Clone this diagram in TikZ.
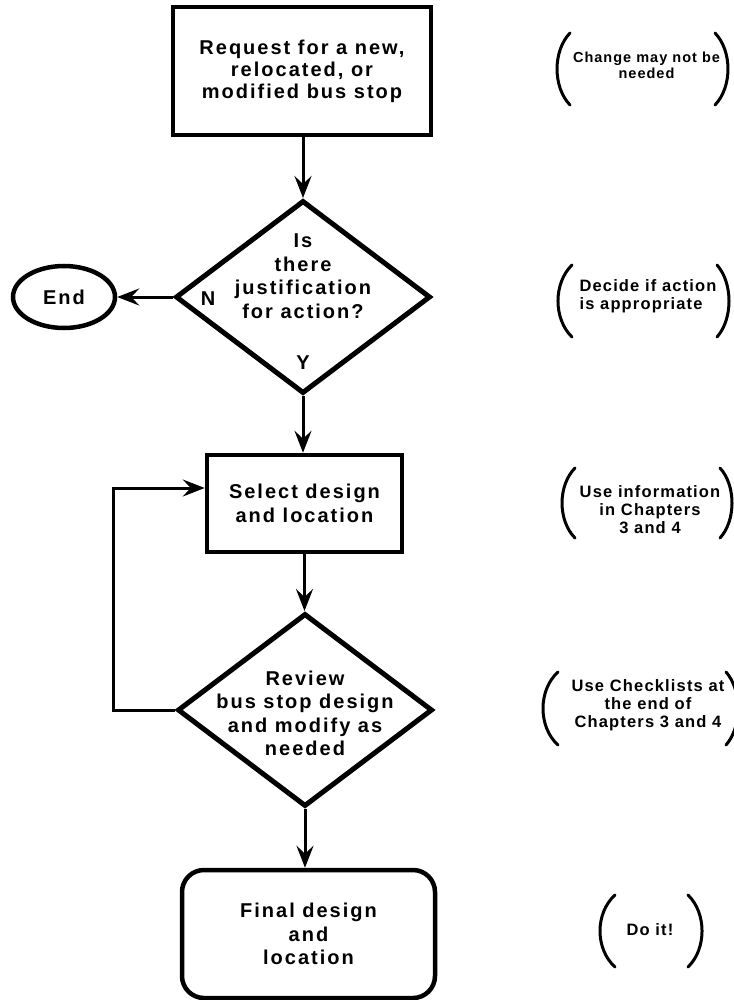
\documentclass[tikz,border=0pt]{standalone}
\usepackage{fontspec}
\setmainfont{Liberation Sans}
\newfontfamily\bigf{Liberation Sans}[LetterSpace=10]
\newfontfamily\smallf{Liberation Sans}[LetterSpace=7]
\usetikzlibrary{shapes.geometric,arrows.meta}
\begin{document}
\begin{tikzpicture}[x=1pt,y=-1pt,
  mainfont/.style={font=\bigf\bfseries\fontsize{20}{23.5}\selectfont},
  procbox/.style={draw,line width=4.5pt,rectangle,mainfont,align=center,inner sep=0pt},
  decision/.style={draw,line width=5pt,diamond,aspect=1.32,inner sep=0pt,minimum width=255pt,minimum height=193pt},
  endell/.style={draw,line width=4.5pt,ellipse,inner sep=0pt,minimum width=102pt,minimum height=62pt,mainfont},
  note/.style={font=\smallf\bfseries\fontsize{16.5}{18}\selectfont,align=center,inner sep=0pt},
  paren/.style={line width=3pt,line cap=round},
  arrow/.style={line width=3pt,-{Stealth[length=22pt,width=17pt,inset=8pt]}},
  ]
\useasboundingbox[fill=white] (0,0) rectangle (733,1000);

% main column
\node[procbox,minimum width=258pt,minimum height=128pt,font=\bigf\bfseries\fontsize{20}{22}\selectfont] (req) at (302,71) {Request for a new,\\relocated, or\\modified bus stop};
\node[decision] (d1) at (303,297) {};
\node[mainfont,align=center,inner sep=0pt] (d1t) at (303,276) {Is\\there\\justification\\for action?};
\node[mainfont,inner sep=0pt] (nlab) at (208,299) {N};
\node[mainfont,inner sep=0pt] (ylab) at (303,363) {Y};
\node[endell] (end) at (64,297) {End};
\node[procbox,minimum width=195pt,minimum height=97pt] (sel) at (304.5,503.5) {Select design\\and location};
\node[decision] (d2) at (305,710) {};
\node[mainfont,align=center,inner sep=0pt] (d2t) at (305,713.5) {Review\\bus stop design\\and modify as\\needed};
\node[procbox,rounded corners=22pt,minimum width=253pt,minimum height=128pt] (fin) at (308.5,934) {Final design\\and\\location};

% connectors
\draw[arrow] (d1.north |- req.south) -- (d1.north);
\draw[arrow] (d1.west) -- (end.east);
\draw[arrow] (d1.south) -- (d1.south |- sel.north);
\draw[arrow] (sel.south) -- (sel.south |- d2.north);
\draw[arrow] (d2.south) -- (d2.south |- fin.north);
\coordinate (fb) at (113,488);
\draw[arrow] (d2.west) -| (fb) -- (fb -| sel.west);

% annotations
\node[note,font=\smallf\bfseries\fontsize{14.5}{16}\selectfont] (a1) at (646.5,65) {Change may not be\\needed};
\draw[paren] (570,33) .. controls (552.7,51) and (552.7,87) .. (570,105);
\draw[paren] (715,33) .. controls (732.3,51) and (732.3,87) .. (715,105);

\node[note,align=left] (a2) at (648,296) {Decide if action\\is appropriate};
\draw[paren] (572,265) .. controls (553.3,283) and (553.3,319) .. (572,337);
\draw[paren] (717,265) .. controls (733,283) and (733,319) .. (717,337);

\node[note] (a3) at (650,510) {Use information\\in Chapters\\3 and 4};
\draw[paren] (575,468) .. controls (557.7,485.5) and (557.7,520.5) .. (575,538);
\draw[paren] (720,468) .. controls (736,485.5) and (736,520.5) .. (720,538);

\node[note] (a4) at (648,705) {Use Checklists at\\the end of\\Chapters 3 and 4};
\draw[paren] (558,672) .. controls (538,690) and (538,727) .. (558,745);
\draw[paren] (726,672) .. controls (742,690) and (742,727) .. (726,745);

\node[note] (a5) at (650,930) {Do it!};
\draw[paren] (615,895) .. controls (595,913) and (595,949) .. (615,967);
\draw[paren] (688,895) .. controls (706.7,913) and (706.7,949) .. (688,967);
\end{tikzpicture}
\end{document}
